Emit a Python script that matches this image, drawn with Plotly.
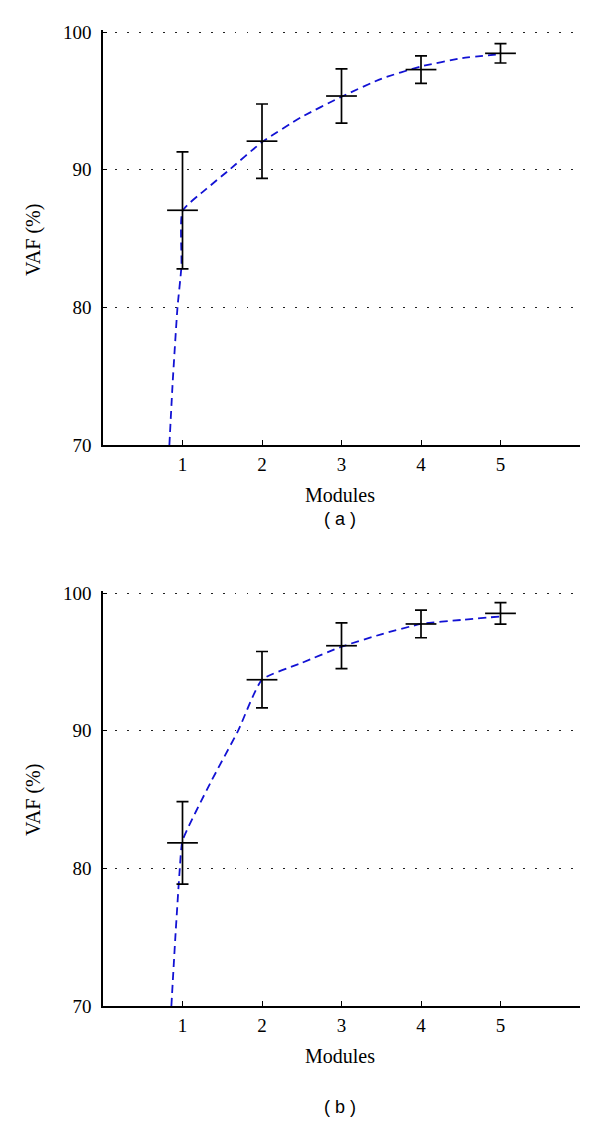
import plotly.graph_objects as go

modules = [1, 2, 3, 4, 5]

# Panel (a)
vaf_a = [87.05, 92.07, 95.35, 97.27, 98.45]
err_a = [4.25, 2.70, 1.97, 1.00, 0.70]
fit_x_a = [0.835, 0.877, 0.937, 0.987, 1.0, 1.3, 1.57, 2.0, 2.49, 3.0, 3.5, 4.0, 4.52, 5.0]
fit_y_a = [70.0, 74.6, 80.0, 83.0, 87.0, 88.6, 89.9, 92.0, 93.8, 95.3, 96.6, 97.5, 98.1, 98.4]

# Panel (b)
vaf_b = [81.85, 93.70, 96.17, 97.75, 98.52]
err_b = [3.00, 2.05, 1.66, 1.00, 0.78]
fit_x_b = [0.86, 0.91, 0.966, 1.0, 1.35, 1.70, 2.0, 2.49, 3.0, 3.5, 4.0, 4.52, 5.0]
fit_y_b = [70.0, 75.0, 80.0, 82.0, 86.2, 90.0, 93.7, 94.9, 96.1, 97.0, 97.75, 98.05, 98.3]

y_ticks = [70, 80, 90, 100]
x_ticks = [1, 2, 3, 4, 5]

W, H = 600, 1124
OFF = 8  # default page body margin
Y_TOP_PAD = 0.15  # range headroom so the 100 gridline is drawn

def px_x(p):
    return (p - OFF) / W

def px_y(p):
    return 1 - (p - OFF) / H

x_dom = [px_x(103), px_x(580)]
dom_a = [px_y(445), px_y(32 - Y_TOP_PAD * 413 / 30)]
dom_b = [px_y(1006), px_y(593 - Y_TOP_PAD * 413 / 30)]

fig = go.Figure()

def add_panel(fx, fy, means, errs, xa, ya):
    fig.add_trace(go.Scatter(
        x=fx, y=fy, mode="lines", xaxis=xa, yaxis=ya,
        line=dict(color="#1212d4", width=1.8, dash="8px,5px", shape="spline", smoothing=0.5),
        hoverinfo="skip", showlegend=False))
    fig.add_trace(go.Scatter(
        x=modules, y=means, mode="markers", xaxis=xa, yaxis=ya,
        marker=dict(symbol="line-ew", size=22, color="black",
                    line=dict(color="black", width=1.7)),
        error_y=dict(type="data", array=errs, visible=True, color="black",
                     thickness=1.7, width=6),
        showlegend=False))

add_panel(fit_x_a, fit_y_a, vaf_a, err_a, "x", "y")
add_panel(fit_x_b, fit_y_b, vaf_b, err_b, "x2", "y2")

tick_font = dict(family="Liberation Serif", size=19, color="black")
xcommon = dict(range=[0, 6], tickvals=x_ticks, ticks="inside", ticklen=5, tickwidth=1.2,
               tickcolor="black", showline=True, linecolor="black", linewidth=1.6,
               showgrid=False, zeroline=False, tickfont=tick_font, ticklabelstandoff=1,
               automargin=False)
ycommon = dict(range=[70, 100 + Y_TOP_PAD], tickvals=y_ticks, ticks="inside", ticklen=4,
               tickwidth=1.2, tickcolor="black", showline=True, linecolor="black",
               linewidth=1.6, showgrid=True, gridcolor="#222222", gridwidth=1,
               griddash="1.5px,10.5px", zeroline=False, tickfont=tick_font,
               ticklabelstandoff=6, automargin=False)

fig.update_layout(
    width=W, height=H, margin=dict(l=0, r=0, t=0, b=0),
    paper_bgcolor="white", plot_bgcolor="white",
    xaxis=dict(domain=x_dom, anchor="y", **xcommon),
    yaxis=dict(domain=dom_a, anchor="x", **ycommon),
    xaxis2=dict(domain=x_dom, anchor="y2", **xcommon),
    yaxis2=dict(domain=dom_b, anchor="x2", **ycommon),
)

serif = dict(family="Liberation Serif", size=20, color="black")
sans = dict(family="Liberation Sans", size=18, color="black")
ann = []
for ycen_title, ycen_lab, ycen_vaf, lab in [(495, 519, 240, "( a )"), (1056, 1107, 800, "( b )")]:
    ann.append(dict(text="Modules", x=px_x(340), y=px_y(ycen_title), xref="paper", yref="paper",
                    showarrow=False, font=serif, xanchor="center", yanchor="middle"))
    ann.append(dict(text=lab, x=px_x(340), y=px_y(ycen_lab), xref="paper", yref="paper",
                    showarrow=False, font=sans, xanchor="center", yanchor="middle"))
    ann.append(dict(text="VAF (%)", x=px_x(33), y=px_y(ycen_vaf), xref="paper", yref="paper",
                    showarrow=False, font=serif, textangle=-90, xanchor="center",
                    yanchor="middle"))
fig.update_layout(annotations=ann)

fig.write_html("out.html")
